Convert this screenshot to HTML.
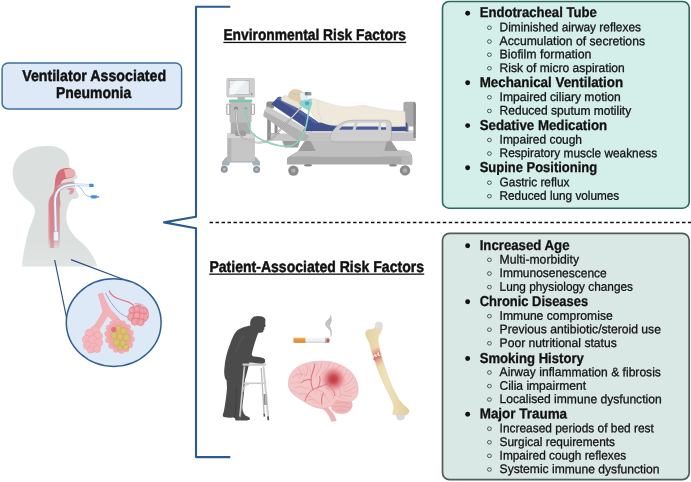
<!DOCTYPE html>
<html><head><meta charset="utf-8"><title>Ventilator Associated Pneumonia</title>
<style>
html,body{margin:0;padding:0;background:#fff;}
svg{display:block;}
text{font-family:"Liberation Sans",sans-serif;fill:#111;}
.h{font-weight:bold;font-size:14.3px;stroke:#111;stroke-width:0.3px;}
.s{font-size:12.4px;stroke:#111;stroke-width:0.28px;}
.t{font-weight:bold;font-size:15.7px;stroke:#111;stroke-width:0.45px;}
</style></head><body>
<svg width="691" height="482" viewBox="0 0 691 482" style="will-change:transform">
<rect width="691" height="482" fill="#fff"/>
<!-- bracket -->
<path d="M230.3 6.7 H196 V216.7 L164 222.4 L196 228.3 V457.1 H230.3" fill="none" stroke="#2a5b8f" stroke-width="2.1" stroke-linejoin="round"/>
<!-- dashed divider -->
<line x1="209.55" y1="222.4" x2="691" y2="222.4" stroke="#111" stroke-width="1.5" stroke-dasharray="3.5 2.48"/>
<!-- title box -->
<rect x="2.1" y="62.9" width="179.5" height="46" rx="6" ry="6" fill="#dde9f7" stroke="#3f6fa3" stroke-width="1.5"/>
<text class="t" x="22.2" y="81.3" transform="rotate(0.03 22.2 81.3)" textLength="143.9" lengthAdjust="spacingAndGlyphs">Ventilator Associated</text>
<text class="t" x="56" y="97.6" transform="rotate(0.03 56 97.6)" textLength="75.2" lengthAdjust="spacingAndGlyphs">Pneumonia</text>
<!-- section headings -->
<text class="t" x="223.4" y="40.3" transform="rotate(0.03 223.4 40.3)" textLength="182.6" lengthAdjust="spacingAndGlyphs">Environmental Risk Factors</text>
<rect x="223.4" y="41.8" width="182.8" height="1.3" fill="#111"/>
<text class="t" x="209.4" y="271.5" transform="rotate(0.03 209.4 271.5)" textLength="214.6" lengthAdjust="spacingAndGlyphs">Patient-Associated Risk Factors</text>
<rect x="209.2" y="273.5" width="215" height="1.3" fill="#111"/>
<!-- boxes -->
<rect x="442.5" y="1.5" width="246.7" height="206.7" rx="6.5" ry="6.5" fill="#d4eeea" stroke="#2a6a5e" stroke-width="1.6"/>
<rect x="442.5" y="233.4" width="246.7" height="246.2" rx="7" ry="7" fill="#dae8e5" stroke="#4f5d5a" stroke-width="1.7"/>
<circle cx="467.65" cy="13.20" r="2.45" fill="#111"/>
<text class="h" x="479.7" y="17.35" transform="rotate(0.03 479.7 17.35)" textLength="117.1" lengthAdjust="spacingAndGlyphs">Endotracheal Tube</text>
<circle cx="467.65" cy="82.80" r="2.45" fill="#111"/>
<text class="h" x="479.7" y="86.95" transform="rotate(0.03 479.7 86.95)" textLength="143.4" lengthAdjust="spacingAndGlyphs">Mechanical Ventilation</text>
<circle cx="467.65" cy="125.60" r="2.45" fill="#111"/>
<text class="h" x="479.7" y="129.75" transform="rotate(0.03 479.7 129.75)" textLength="127.39999999999999" lengthAdjust="spacingAndGlyphs">Sedative Medication</text>
<circle cx="467.65" cy="167.80" r="2.45" fill="#111"/>
<text class="h" x="479.7" y="171.95" transform="rotate(0.03 479.7 171.95)" textLength="117.39999999999999" lengthAdjust="spacingAndGlyphs">Supine Positioning</text>
<circle cx="467.65" cy="245.70" r="2.45" fill="#111"/>
<text class="h" x="479.7" y="249.85" transform="rotate(0.03 479.7 249.85)" textLength="89.8" lengthAdjust="spacingAndGlyphs">Increased Age</text>
<circle cx="467.65" cy="301.80" r="2.45" fill="#111"/>
<text class="h" x="479.7" y="305.95" transform="rotate(0.03 479.7 305.95)" textLength="108.39999999999999" lengthAdjust="spacingAndGlyphs">Chronic Diseases</text>
<circle cx="467.65" cy="358.50" r="2.45" fill="#111"/>
<text class="h" x="479.7" y="362.65" transform="rotate(0.03 479.7 362.65)" textLength="104.1" lengthAdjust="spacingAndGlyphs">Smoking History</text>
<circle cx="467.65" cy="414.20" r="2.45" fill="#111"/>
<text class="h" x="479.7" y="418.35" transform="rotate(0.03 479.7 418.35)" textLength="87.39999999999999" lengthAdjust="spacingAndGlyphs">Major Trauma</text>
<ellipse cx="489.4" cy="27.70" rx="1.95" ry="1.8" fill="none" stroke="#333" stroke-width="0.8"/>
<text class="s" x="499.6" y="31.3" transform="rotate(0.03 499.6 31.3)" textLength="141.4" lengthAdjust="spacingAndGlyphs">Diminished airway reflexes</text>
<ellipse cx="489.4" cy="41.50" rx="1.95" ry="1.8" fill="none" stroke="#333" stroke-width="0.8"/>
<text class="s" x="499.6" y="45.1" transform="rotate(0.03 499.6 45.1)" textLength="145.4" lengthAdjust="spacingAndGlyphs">Accumulation of secretions</text>
<ellipse cx="489.4" cy="54.70" rx="1.95" ry="1.8" fill="none" stroke="#333" stroke-width="0.8"/>
<text class="s" x="499.6" y="58.3" transform="rotate(0.03 499.6 58.3)" textLength="91.8" lengthAdjust="spacingAndGlyphs">Biofilm formation</text>
<ellipse cx="489.4" cy="68.30" rx="1.95" ry="1.8" fill="none" stroke="#333" stroke-width="0.8"/>
<text class="s" x="499.6" y="71.9" transform="rotate(0.03 499.6 71.9)" textLength="125.1" lengthAdjust="spacingAndGlyphs">Risk of micro aspiration</text>
<ellipse cx="489.4" cy="97.30" rx="1.95" ry="1.8" fill="none" stroke="#333" stroke-width="0.8"/>
<text class="s" x="499.6" y="100.9" transform="rotate(0.03 499.6 100.9)" textLength="121.1" lengthAdjust="spacingAndGlyphs">Impaired ciliary motion</text>
<ellipse cx="489.4" cy="111.00" rx="1.95" ry="1.8" fill="none" stroke="#333" stroke-width="0.8"/>
<text class="s" x="499.6" y="114.6" transform="rotate(0.03 499.6 114.6)" textLength="131.6" lengthAdjust="spacingAndGlyphs">Reduced sputum motility</text>
<ellipse cx="489.4" cy="140.00" rx="1.95" ry="1.8" fill="none" stroke="#333" stroke-width="0.8"/>
<text class="s" x="499.6" y="143.6" transform="rotate(0.03 499.6 143.6)" textLength="82.39999999999999" lengthAdjust="spacingAndGlyphs">Impaired cough</text>
<ellipse cx="489.4" cy="153.50" rx="1.95" ry="1.8" fill="none" stroke="#333" stroke-width="0.8"/>
<text class="s" x="499.6" y="157.1" transform="rotate(0.03 499.6 157.1)" textLength="157.6" lengthAdjust="spacingAndGlyphs">Respiratory muscle weakness</text>
<ellipse cx="489.4" cy="182.70" rx="1.95" ry="1.8" fill="none" stroke="#333" stroke-width="0.8"/>
<text class="s" x="499.6" y="186.3" transform="rotate(0.03 499.6 186.3)" textLength="69.8" lengthAdjust="spacingAndGlyphs">Gastric reflux</text>
<ellipse cx="489.4" cy="196.20" rx="1.95" ry="1.8" fill="none" stroke="#333" stroke-width="0.8"/>
<text class="s" x="499.6" y="199.8" transform="rotate(0.03 499.6 199.8)" textLength="119.6" lengthAdjust="spacingAndGlyphs">Reduced lung volumes</text>
<ellipse cx="489.4" cy="259.80" rx="1.95" ry="1.8" fill="none" stroke="#333" stroke-width="0.8"/>
<text class="s" x="499.6" y="263.4" transform="rotate(0.03 499.6 263.4)" textLength="79.39999999999999" lengthAdjust="spacingAndGlyphs">Multi-morbidity</text>
<ellipse cx="489.4" cy="273.50" rx="1.95" ry="1.8" fill="none" stroke="#333" stroke-width="0.8"/>
<text class="s" x="499.6" y="277.1" transform="rotate(0.03 499.6 277.1)" textLength="107.1" lengthAdjust="spacingAndGlyphs">Immunosenescence</text>
<ellipse cx="489.4" cy="287.10" rx="1.95" ry="1.8" fill="none" stroke="#333" stroke-width="0.8"/>
<text class="s" x="499.6" y="290.7" transform="rotate(0.03 499.6 290.7)" textLength="133.4" lengthAdjust="spacingAndGlyphs">Lung physiology changes</text>
<ellipse cx="489.4" cy="316.20" rx="1.95" ry="1.8" fill="none" stroke="#333" stroke-width="0.8"/>
<text class="s" x="499.6" y="319.8" transform="rotate(0.03 499.6 319.8)" textLength="113.1" lengthAdjust="spacingAndGlyphs">Immune compromise</text>
<ellipse cx="489.4" cy="329.70" rx="1.95" ry="1.8" fill="none" stroke="#333" stroke-width="0.8"/>
<text class="s" x="499.6" y="333.3" transform="rotate(0.03 499.6 333.3)" textLength="161.29999999999998" lengthAdjust="spacingAndGlyphs">Previous antibiotic/steroid use</text>
<ellipse cx="489.4" cy="343.30" rx="1.95" ry="1.8" fill="none" stroke="#333" stroke-width="0.8"/>
<text class="s" x="499.6" y="346.9" transform="rotate(0.03 499.6 346.9)" textLength="117.1" lengthAdjust="spacingAndGlyphs">Poor nutritional status</text>
<ellipse cx="489.4" cy="372.50" rx="1.95" ry="1.8" fill="none" stroke="#333" stroke-width="0.8"/>
<text class="s" x="499.6" y="376.1" transform="rotate(0.03 499.6 376.1)" textLength="161.29999999999998" lengthAdjust="spacingAndGlyphs">Airway inflammation &amp; fibrosis</text>
<ellipse cx="489.4" cy="386.10" rx="1.95" ry="1.8" fill="none" stroke="#333" stroke-width="0.8"/>
<text class="s" x="499.6" y="389.7" transform="rotate(0.03 499.6 389.7)" textLength="86.39999999999999" lengthAdjust="spacingAndGlyphs">Cilia impairment</text>
<ellipse cx="489.4" cy="399.50" rx="1.95" ry="1.8" fill="none" stroke="#333" stroke-width="0.8"/>
<text class="s" x="499.6" y="403.1" transform="rotate(0.03 499.6 403.1)" textLength="162.1" lengthAdjust="spacingAndGlyphs">Localised immune dysfunction</text>
<ellipse cx="489.4" cy="428.70" rx="1.95" ry="1.8" fill="none" stroke="#333" stroke-width="0.8"/>
<text class="s" x="499.6" y="432.3" transform="rotate(0.03 499.6 432.3)" textLength="154.29999999999998" lengthAdjust="spacingAndGlyphs">Increased periods of bed rest</text>
<ellipse cx="489.4" cy="442.30" rx="1.95" ry="1.8" fill="none" stroke="#333" stroke-width="0.8"/>
<text class="s" x="499.6" y="445.9" transform="rotate(0.03 499.6 445.9)" textLength="115.39999999999999" lengthAdjust="spacingAndGlyphs">Surgical requirements</text>
<ellipse cx="489.4" cy="455.80" rx="1.95" ry="1.8" fill="none" stroke="#333" stroke-width="0.8"/>
<text class="s" x="499.6" y="459.4" transform="rotate(0.03 499.6 459.4)" textLength="126.6" lengthAdjust="spacingAndGlyphs">Impaired cough reflexes</text>
<ellipse cx="489.4" cy="469.50" rx="1.95" ry="1.8" fill="none" stroke="#333" stroke-width="0.8"/>
<text class="s" x="499.6" y="473.1" transform="rotate(0.03 499.6 473.1)" textLength="159.9" lengthAdjust="spacingAndGlyphs">Systemic immune dysfunction</text>
<defs><filter id="soft" x="-2%" y="-2%" width="104%" height="104%"><feGaussianBlur stdDeviation="0.35"/></filter></defs>
<g filter="url(#soft)">
<!-- ===== head silhouette ===== -->
<defs>
<linearGradient id="throatFade" x1="0" y1="180" x2="0" y2="250" gradientUnits="userSpaceOnUse">
<stop offset="0" stop-color="#d5707a"/><stop offset="0.3" stop-color="#dc8a91"/><stop offset="0.8" stop-color="#e09aa0"/><stop offset="1" stop-color="#e0a0a5" stop-opacity="0"/>
</linearGradient>
<linearGradient id="torsoFade" x1="0" y1="240" x2="0" y2="268" gradientUnits="userSpaceOnUse">
<stop offset="0" stop-color="#dbe0df"/><stop offset="1" stop-color="#e0e4e3"/>
</linearGradient>
</defs>
<g id="head">
<path d="M46 146 C62 145 71 154 69 165 L70.5 168 C73 171 76 174 77.5 176.5 C78 178 76.5 179 74.5 179.5 L74.8 183 C76 184 76 185.5 74.8 186.5 C76 187.5 76.5 189 75.8 190.5 C77.5 192 79 194 78.8 196 C78.3 198.5 75.5 199 72.5 199 C70.5 200.5 68.8 204 67.8 207.5 C66.2 212 66 217 66.8 222 C69 231 75 237 81.5 242.5 C88 248 94 256 97.4 266.5 L22 266.5 C22.6 256 25 244 28.5 231 C31.5 222 35.4 216 35 210 C34 203 27 201 21 194 C12 184 10 170 16 160 C22 150 34 146 46 146 Z" fill="url(#torsoFade)"/>
<!-- pharynx -->
<path d="M58 172 C60 168.5 66 167.5 70 168.2 C73 168.8 75.5 171 75.3 173.5 C75 176 73 177.5 70.5 178 C67 178.5 63.5 179 61.5 181.5 C60 184 60.5 188 60 192 C59.6 196 59.8 200 59.8 204 L59.6 248 L48.5 248 L48.4 206 C48.3 200 50 197 52.5 194 C55 190 54.5 186 55 182 C55.3 178 56.3 174.5 58 172 Z" fill="url(#throatFade)"/>
<path d="M64 170 C67 168.4 71 168.2 73.6 169.4 C75.6 170.6 76 173.4 74.6 175.6 C72.6 177.6 69 177.8 66 178 Z" fill="#f0c4c6" opacity="0.75"/>
<path d="M50.2 205 C50.2 200 52 197 54 194 L54 248 L50.2 248 Z" fill="#d47680" opacity="0.5"/>
<!-- tongue hook -->
<path d="M66.5 188.5 C69 187.5 72.5 187.5 74 189 C74.8 191 73.5 193.5 71 194.3 C69.3 194.7 68.3 193.8 69.3 192.7 C70.8 191.8 70.8 190.2 69 189.8 C68 189.6 67 189.3 66.5 188.5 Z" fill="#e09aa0"/>
<!-- epiglottis -->
<path d="M58.2 196.5 C60.2 198 61 202 60.2 206.5 L58.6 206.3 C59 202.5 58.8 199.5 57.6 197.5 Z" fill="#dc8a91"/>
<!-- pilot line -->
<path d="M76 185.6 C79.5 185.8 81 188 82.5 190.5 C84 193 86 196.5 91 196.8" fill="none" stroke="#7fb0e6" stroke-width="0.9"/>
<rect x="90.6" y="195.3" width="6.6" height="3.1" rx="1.4" fill="#4a90de"/>
<rect x="96.8" y="196.1" width="2.4" height="1.5" fill="#5a9be2"/>
<!-- ET tube -->
<path d="M57 187.4 C60.6 183.8 67 182.6 73.8 182.4" fill="none" stroke="#e2959c" stroke-width="2"/>
<path d="M90 185.3 L74 184.6" fill="none" stroke="#b9cfee" stroke-width="2.5"/>
<path d="M90 185.3 L74 184.6" fill="none" stroke="#e6effa" stroke-width="1.5"/>
<path d="M75 184.6 L74 184.6 C66 184.6 59.5 187.5 56.6 193 C55 196.5 54.9 199 55 203 L55.9 232" fill="none" stroke="#9fb1c6" stroke-width="3.1" stroke-linecap="butt"/>
<path d="M75 184.6 L74 184.6 C66 184.6 59.5 187.5 56.6 193 C55 196.5 54.9 199 55 203 L55.9 232" fill="none" stroke="#eef3f9" stroke-width="1.9" stroke-linecap="butt"/>
<rect x="53.5" y="231.5" width="5.2" height="9.6" rx="1.5" fill="#eef2f6" stroke="#a9b6c6" stroke-width="0.7"/>
<rect x="89.2" y="183.8" width="4.4" height="3.2" rx="0.6" fill="#3f8be0"/>
</g>
<!-- ===== zoom lines + alveoli circle ===== -->
<g id="alveoli">
<path d="M54.7 260 L66.6 318" stroke="#2a4f80" stroke-width="1.2" fill="none"/>
<path d="M71 259.6 L125 280" stroke="#2a4f80" stroke-width="1.2" fill="none"/>
<ellipse cx="113.7" cy="322.6" rx="47.4" ry="43.8" fill="#dde9f6" stroke="#2f5f93" stroke-width="1.5"/>
<!-- vessels -->
<path d="M109 290.5 C111 296 116 298.5 122 300 C127 301.2 131 302.5 134 306" fill="none" stroke="#e0707a" stroke-width="1.1"/>
<path d="M134 304 C139 303 144 305 147 309 C149 312 149 316 147.5 319" fill="none" stroke="#e0707a" stroke-width="0.6"/>
<path d="M105.5 293 C109 300 113 306 118 311 C122 315 125 316 128 317.5" fill="none" stroke="#a9a0d8" stroke-width="1"/>
<!-- bronchiole -->
<path d="M98.3 294.2 L102.6 293 C104.5 299 107.5 305 110.5 309.5 C114 313.5 118 317 121 321 L116 324.5 C113.5 321 110.5 318 107.8 315.8 C105.5 319.5 102.5 324 99.5 329 L93.5 327 C97 322 101 316 103 311.5 C101.5 306 99.8 300 98.3 294.2 Z" fill="#f3b3b6" stroke="#ec9aa0" stroke-width="0.5"/>
<!-- left cluster -->
<g fill="#f4b6ba" stroke="#ea979d" stroke-width="0.45">
<circle cx="95" cy="330.5" r="4.6"/><circle cx="89.5" cy="333.5" r="4.4"/><circle cx="98" cy="336" r="4.4"/><circle cx="86.5" cy="339.5" r="4.2"/><circle cx="92.5" cy="340" r="4.6"/><circle cx="98.5" cy="342.5" r="4.2"/><circle cx="87.5" cy="345.5" r="4.2"/><circle cx="93.5" cy="347.5" r="4.6"/><circle cx="97" cy="349" r="3.6"/><circle cx="90.5" cy="350" r="3.2"/>
</g>
<!-- middle cluster -->
<g fill="#f3b1b5" stroke="#e8939a" stroke-width="0.4"><circle cx="130.5" cy="332.9" r="2.9"/><circle cx="131.4" cy="339.2" r="2.9"/><circle cx="129.9" cy="345.0" r="2.9"/><circle cx="126.3" cy="349.1" r="2.9"/><circle cx="121.4" cy="350.6" r="2.9"/><circle cx="116.1" cy="349.4" r="2.9"/><circle cx="111.5" cy="345.7" r="2.9"/><circle cx="108.5" cy="340.1" r="2.9"/><circle cx="107.6" cy="333.8" r="2.9"/><circle cx="109.1" cy="328.0" r="2.9"/><circle cx="112.7" cy="323.9" r="2.9"/><circle cx="117.6" cy="322.4" r="2.9"/><circle cx="122.9" cy="323.6" r="2.9"/><circle cx="127.5" cy="327.3" r="2.9"/></g>

<g fill="#f0a6ab" stroke="#e68890" stroke-width="0.5">
<ellipse cx="119.5" cy="336.5" rx="11.8" ry="14.6" transform="rotate(-18 119.5 336.5)" stroke="none"/>
</g>
<g fill="#d9c46a" stroke="#bfa64a" stroke-width="0.5">
<circle cx="118" cy="328.5" r="3"/><circle cx="123.5" cy="331" r="3.3"/><circle cx="114" cy="335.5" r="3.2"/><circle cx="120" cy="336.5" r="3"/><circle cx="126.5" cy="337.5" r="3.3"/><circle cx="116.5" cy="342.5" r="3.2"/><circle cx="123" cy="343.5" r="3.2"/><circle cx="126" cy="347" r="2.8"/><circle cx="120" cy="348" r="2.4"/>
</g>
<circle cx="113.8" cy="329.5" r="2.6" fill="#e8707c"/>
<!-- right cluster -->
<g fill="#efa3ab" stroke="#e07883" stroke-width="0.5">
<circle cx="133" cy="311" r="4.2"/><circle cx="138.5" cy="309" r="4.2"/><circle cx="143.5" cy="311.5" r="4"/><circle cx="131.5" cy="317" r="4"/><circle cx="137.5" cy="316" r="4.4"/><circle cx="143.5" cy="317.5" r="4.2"/><circle cx="135" cy="321.5" r="3.8"/><circle cx="140.5" cy="322" r="3.8"/>
</g>
<g fill="none" stroke="#d9545f" stroke-width="0.35" opacity="0.8">
<path d="M130 308 C134 306 139 305.4 144 307.4 C147.6 309.4 148.6 314 147.4 319"/><path d="M133 306 C135 311 134 317 132 321"/><path d="M138 305 C140 310 140 317 138 324"/><path d="M143 306.6 C144.6 311 144.6 318 142.6 323.6"/><path d="M129 313 C134 312 141 312.4 147.6 314"/><path d="M129.6 319 C135 318 141 318.6 146.6 320.4"/>
</g>
</g>
<!-- ===== ventilator ===== -->
<g id="vent">
<!-- base legs -->
<path d="M222 162 L226 157 L256 157 L260 162 L260 165.5 L253 165.5 L252 162.5 L230 162.5 L229 165.5 L222 165.5 Z" fill="#a3b1b8"/>
<circle cx="224.3" cy="169.3" r="3.5" fill="#8f9498"/><circle cx="224.3" cy="169.3" r="1.5" fill="#b9bdc0"/>
<circle cx="256.6" cy="169.6" r="3.5" fill="#8f9498"/><circle cx="256.6" cy="169.6" r="1.5" fill="#b9bdc0"/>
<!-- lower body -->
<rect x="227.4" y="133.6" width="27.6" height="27.6" rx="1" fill="#c6c6c6"/>
<rect x="227.4" y="133.6" width="4" height="27.6" fill="#b5b5b5"/>
<rect x="227.4" y="133.6" width="27.6" height="4.4" fill="#d6d6d6"/>
<!-- mid body -->
<rect x="230.8" y="122" width="19.8" height="12" fill="#adadad"/>
<rect x="235" y="130.5" width="11" height="5.5" rx="1.5" fill="#9d9d9d"/>
<!-- upper body -->
<rect x="229.6" y="101.5" width="22" height="21" rx="1" fill="#bdbdbd"/>
<rect x="226.8" y="104" width="3" height="10.5" rx="1.2" fill="none" stroke="#a9a9a9" stroke-width="1.2"/>
<rect x="251.4" y="104" width="3" height="10.5" rx="1.2" fill="none" stroke="#a9a9a9" stroke-width="1.2"/>
<rect x="229" y="99.6" width="23.2" height="2.6" rx="0.8" fill="#7cc5b2"/>
<rect x="237.6" y="96.5" width="7.2" height="3.4" fill="#b3b3b3"/>
<!-- monitor -->
<rect x="226.8" y="78.3" width="27.6" height="18.8" rx="1.2" fill="#cfcfcf" stroke="#b9b9b9" stroke-width="0.6"/>
<rect x="229.2" y="80.7" width="20" height="14" fill="#e9edf0" stroke="#a6a9ac" stroke-width="0.6"/>
<path d="M236 80.7 L246 80.7 L234 94.7 L229.2 94.7 L229.2 89 Z" fill="#f8fafb" opacity="0.8"/>
<circle cx="251.6" cy="94" r="0.9" fill="#8d8d8d"/>
<!-- ports -->
<circle cx="236" cy="108.6" r="2" fill="#8b8b8b"/>
<circle cx="245.8" cy="108.6" r="1.5" fill="#6fb8a4"/>
</g>
<!-- ===== bed ===== -->
<g id="bed">
<!-- headboard + legs -->
<path d="M266.4 103.5 Q266.4 101.6 268.4 101.6 L274 101.6 L274 108 L270.8 109 L270.8 141 L267.2 141 L267.2 110 L266.4 110 Z" fill="#8e8e8e"/>
<rect x="274.6" y="120" width="3" height="14" fill="#8e8e8e"/>
<path d="M267.2 133 L280 133 L280 136 L267.2 136 Z" fill="#9a9a9a"/>
<!-- base dark bar -->
<path d="M287 164.6 L287 159 Q287 157.6 288.4 157 L299 150.6 L404 150.6 Q412 151 412.2 158 L412.2 164.6 Z" fill="#a9a9a9"/>
<path d="M299 150.6 L404 150.6 Q410 150.8 411.6 156.6 L290 156.6 Z" fill="#bfbfbf"/>
<path d="M401.6 156.6 L412.2 156.6 L412.2 164.6 L401.6 164.6 Z" fill="#b9b9b9"/>
<!-- struts -->
<path d="M305 140.6 L391 140.6 L398 151 L298 151 Z" fill="#9c9c9c"/>
<!-- under-frame trapezoid -->
<path d="M310 140 L387 140 L383.6 153.6 Q383 156.8 379.6 156.8 L321 156.8 Q318 156.8 317 153.6 Z" fill="#bfbfbf"/>
<!-- wheels -->
<circle cx="293.4" cy="170.6" r="5.2" fill="#8a8a8a"/><circle cx="293.4" cy="170.6" r="2.2" fill="#b0b0b0"/>
<circle cx="405" cy="170.4" r="5.2" fill="#8a8a8a"/><circle cx="405" cy="170.4" r="2.2" fill="#b0b0b0"/>
<ellipse cx="308" cy="165.2" rx="4" ry="1.3" fill="#8a8a8a"/><ellipse cx="393" cy="165.2" rx="4" ry="1.3" fill="#8a8a8a"/>
<!-- flat frame left extension under backrest -->
<path d="M271 133.4 L306 133.4 L306 140.8 L271 140.8 Z" fill="#c6c6c6"/>
<path d="M282 140.8 L300 140.8 L298 147.6 L285 147.6 Z" fill="#9a9a9a"/>
<!-- flat frame -->
<path d="M306 130.4 L415.6 130.4 L415.6 141 L300 141 Z" fill="#c3c3c3"/>
<path d="M306 130.4 L415.6 130.4 L415.6 133 L304.5 133 Z" fill="#d2d2d2"/>
<!-- inclined backrest frame -->
<path d="M264.2 111 L268 106.5 L311 131.5 L307 140.4 L297 140.4 L263.2 116 Z" fill="#b2b2b2"/>
<path d="M264.2 111 L268 106.5 L311 131.5 L309 135.4 Z" fill="#cbcbcb"/>
<!-- footboard -->
<rect x="403.4" y="101.8" width="12.4" height="24.8" rx="2.2" fill="#a9a9a9"/>
<path d="M413.4 102 Q415.8 102.4 415.8 104.4 L415.8 138 L413.4 138 Z" fill="#8a8a8a"/>
<rect x="405.6" y="126" width="3" height="6" fill="#9b9b9b"/>
<!-- mattress flat -->
<path d="M309 122.5 L406 122.5 Q407.5 122.5 407.5 124 L407.5 131 L303 131 Z" fill="#3f4f8d"/>
<!-- mattress inclined -->
<path d="M271.4 104.2 L277.6 97.6 Q279 96.4 281 97 L318 122 L311.5 131.4 Z" fill="#3f4f8d"/>
<path d="M277.6 97.6 Q279 96.4 281 97 L318 122 L316.5 124 L277 99.2 Z" fill="#5666a6"/>
<!-- pillow -->
<path d="M281 98.5 Q283 94.8 286.5 95.6 L300 103.4 Q301.5 105 300 107.4 L296.6 107.4 L281.6 100.4 Z" fill="#ebe3d3" stroke="#d6ccb9" stroke-width="0.4"/>
<!-- blanket/body -->
<path d="M308.6 100.8 C309.6 99 311 98.2 313 98.6 C319 100 325 102.4 331 104.2 C338 106.2 346 107.4 352 106.8 C357 106.2 360 105 364 105.6 C370 106.4 374 107.6 380 108.8 C388 110.4 398 110.8 405 111.4 L405.6 126.4 C395 126.8 380 126.6 368 126.4 C354 126.2 343 126.4 334 125.6 C326 124.8 320 122 315 118.4 C312.6 115.8 310.4 110 309.2 106 Z" fill="#efe9dc" stroke="#d9cfbd" stroke-width="0.4"/>
<path d="M318 100.5 C317 107 318.5 114 322 120.5" fill="none" stroke="#d9cfbd" stroke-width="0.5"/>
<!-- head -->
<path d="M288.4 96.6 C288 92.6 291 89.4 295.4 89.2 C299 89 302 90.6 303.4 93.4 L305 96.8 L303.8 98.4 L304.6 100.6 C304.4 102.4 302.6 103 300.4 102.6 C297.4 102.2 294 100.6 291.4 99.2 C289.8 98.4 288.6 97.6 288.4 96.6 Z" fill="#e6caa9"/>
<path d="M288.4 96.6 C288 92.6 291 89.4 295.4 89.2 C293 91.4 292.6 95.6 294.4 99.2 L291.4 99.2 C289.8 98.4 288.6 97.6 288.4 96.6 Z" fill="#dccdb6"/>
<!-- gown + mask -->
<path d="M298.4 102.6 L303 100.4 L311.4 98.4 L312.2 104 L309.4 111 L304.6 108.4 L300.6 105.8 Z" fill="#8fd4c9"/>
<path d="M304.6 102 L309 101.4 L309.4 104.6 L306 105.4 Z" fill="#4aa6cc"/>
<path d="M299.4 93.2 C301.6 91.8 304.4 92 305.6 93.4 L307 97 C306.6 99.6 304 101.2 301.6 100.6 C300 99.6 299.2 96.4 299.4 93.2 Z" fill="#e4f1f0" stroke="#8ecfc6" stroke-width="0.5"/>
<path d="M292 93.6 L299.6 95.2" stroke="#8ecfc6" stroke-width="0.5" fill="none"/>
<rect x="304.8" y="92" width="6.6" height="3.6" rx="0.9" fill="#8e9aa3"/>
<rect x="305.4" y="92.4" width="2" height="2" fill="#5d6b75"/>
<!-- tubes -->
<path d="M301.6 107 L270.8 139.8" fill="none" stroke="#8f8f8f" stroke-width="1.7"/>
<path d="M301.6 107 L270.8 139.8" fill="none" stroke="#e9e9e9" stroke-width="0.8"/>
<path d="M236 109 C236.4 118 237 126 238.4 132 C240 138 246 140.6 253 142 C260 143.4 266 142.6 270.8 139.8" fill="none" stroke="#9a9a9a" stroke-width="1.7"/>
<path d="M236 109 C236.4 118 237 126 238.4 132 C240 138 246 140.6 253 142 C260 143.4 266 142.6 270.8 139.8" fill="none" stroke="#e9e9e9" stroke-width="0.8"/>
<path d="M245.8 109 C246.4 116 247.4 124 250 130 C253 136 260 139.6 268 142.6 C276 145.6 286 147.2 292 145.4 C298 143.6 302.6 137 305 130 C307.4 122 308.6 112 310 104" fill="none" stroke="#74c3ae" stroke-width="1.6"/>
<path d="M245.8 109 C246.4 116 247.4 124 250 130 C253 136 260 139.6 268 142.6 C276 145.6 286 147.2 292 145.4 C298 143.6 302.6 137 305 130 C307.4 122 308.6 112 310 104" fill="none" stroke="#b4e6d8" stroke-width="0.6"/>
<!-- side rail -->
<path d="M336 141.8 C331 141.8 328.8 139 330.6 135 C333 129.6 337.6 124.4 344 122 C348 120.4 352 120.2 356 120.2 L386 120.2 Q391.4 120.2 391.4 125.6 L391.4 136.4 Q391.4 141.8 386 141.8 Z" fill="#cfcfcf" stroke="#9a9a9a" stroke-width="0.5"/>
<path d="M339 129.8 C341 126 344.6 123.2 349 122.8 L354.6 122.8 L352.6 129.8 Z" fill="#f1eee7"/>
<path d="M339 129.8 C339.8 128.4 340.8 127.2 342 126.4 L353.6 126.4 L352.6 129.8 Z" fill="#4a5a98"/>
<path d="M357.6 122.8 L379 122.8 L378 129.8 L355.6 129.8 Z" fill="#f1eee7"/>
<path d="M356.6 126.4 L378.5 126.4 L378 129.8 L355.6 129.8 Z" fill="#4a5a98"/>
<rect x="381" y="122.8" width="5" height="7" rx="1.4" fill="#efede8"/>
<rect x="381" y="127.2" width="5" height="2.6" fill="#4a5a98"/>
</g>
<!-- ===== old man with walker ===== -->
<g id="oldman">
<!-- far walker legs -->
<path d="M246.5 368 L235.2 417.5" stroke="#b9b9b9" stroke-width="1.3" fill="none"/>
<path d="M261.2 368 L264.2 414.5" stroke="#b9b9b9" stroke-width="1.3" fill="none"/>
<!-- body -->
<path d="M254.6 316.4 C257.6 315.4 263 315.8 265 318.4 C266 320 265 321.4 265.2 323 L265.6 326.6 L264.2 327.6 L264.4 329.4 L263.4 330 L263.4 331.6 C262.6 332.8 260.6 332.8 258.8 332.4 L257.8 334 C256.8 337 255.4 340.4 254.4 344 C253.4 348 252 351.6 251.8 354.4 C252 355.8 253 356.4 254.6 356.6 C257.6 356.8 261 357.4 263.6 358.6 C265.4 359 265.6 361.6 264.2 362.8 C262.4 363.6 259 363 256 363 L249.4 362.4 C248.4 367 246.6 374 245 380 C244.6 388 243.4 398 242.4 406 C242.2 410 243.2 413.6 245.4 415.6 C247.6 416.6 250 417.4 250 419 C250 420.4 247 420.6 243 420.6 L235.6 420.4 L234.8 418 L233.4 417.6 C230.6 417.8 226.6 417.6 223.6 417 C222.4 416 222.6 414.2 223.6 412.6 C225 406 226.4 396 227 388 L226.6 380.4 C224.6 378.6 223.8 374 224.4 368 C225 360 227 352 229.6 345.6 C231.6 340 233.6 334 237 330.6 C240.6 327.6 246 326.4 250.4 325.4 C249.8 322.6 250.2 318 255 316.2 Z" fill="#4b4b4b"/>
<path d="M236 352 C238 346 240 340 244 336" stroke="#5e5e5e" stroke-width="0.8" fill="none"/>
<path d="M236.6 388 C236.2 398 235.6 408 234.8 418" stroke="#3c3c3c" stroke-width="0.8" fill="none"/>
<!-- walker near side -->
<path d="M244.4 366.4 L239.8 417.5" stroke="#d2d2d2" stroke-width="1.6" fill="none"/>
<path d="M263.2 366.4 L268 417.5" stroke="#d2d2d2" stroke-width="1.6" fill="none"/>
<path d="M244.4 366.4 L239.8 417.5 M263.2 366.4 L268 417.5" stroke="#a4a4a4" stroke-width="0.4" fill="none" transform="translate(0.8 0)"/>
<path d="M243.4 364.6 L265.2 364.6" stroke="#c9c9c9" stroke-width="2.2" stroke-linecap="round" fill="none"/>
<path d="M243.4 383.3 L264.6 383.3" stroke="#c9c9c9" stroke-width="1.6" fill="none"/>
<path d="M242.8 392 C243 387 245 384.6 249 384.2" stroke="#c9c9c9" stroke-width="1.2" fill="none"/>
<path d="M268 416.5 L268.3 420.3" stroke="#555" stroke-width="1.8" fill="none"/>
<path d="M239.8 416.5 L239.5 420" stroke="#555" stroke-width="1.8" fill="none"/>
<path d="M264.2 413.8 L264.4 416.6" stroke="#555" stroke-width="1.5" fill="none"/>
<path d="M264.4 394 L265 405" stroke="#8c8c8c" stroke-width="1.6" fill="none"/>
<path d="M266 394 L266.8 405" stroke="#8c8c8c" stroke-width="0.6" fill="none"/>
<!-- hand over handle -->
<path d="M254 358 C257.6 357.2 261.6 357.4 264 358.8 C265.6 360 265.4 362.4 264 363.2 C261 363.8 257 363.4 254 363 Z" fill="#4b4b4b"/>
</g>
<!-- ===== cigarette ===== -->
<g id="cig">
<defs><linearGradient id="cigShade" x1="0" y1="0" x2="0" y2="1"><stop offset="0" stop-color="#fff" stop-opacity="0.35"/><stop offset="0.45" stop-color="#fff" stop-opacity="0"/><stop offset="1" stop-color="#000" stop-opacity="0.18"/></linearGradient></defs>
<rect x="293.4" y="337.8" width="12.4" height="4.9" rx="1" fill="#e9952c"/>
<rect x="305.6" y="337.8" width="21" height="4.9" fill="#f1f1f1"/>
<path d="M325.4 337.8 L329 338 Q330.6 340.2 329 342.5 L325.4 342.7 Z" fill="#a59a94"/>
<path d="M327 338.2 L329 338.4 Q330 340.2 329 342.1 L327 342.3 Z" fill="#e0522c"/>
<rect x="293.4" y="337.8" width="36.4" height="4.9" rx="1" fill="url(#cigShade)"/>
<path d="M330.4 336.4 C330.8 333.4 330.6 331 328.6 329 C326 326.6 324.6 324.6 325.6 322.4 C326.6 320 329.6 319.4 330.6 315 C332.4 318 332 321 330.6 323.4 C329.4 325.6 330.4 327.4 331.4 330 C332.2 332.4 331.8 334.6 331.2 336.4 Z" fill="#b4b4b4" opacity="0.85"/>
<path d="M328.4 321 C327 323 327.6 325.4 329.4 327.6" fill="none" stroke="#d4d4d4" stroke-width="0.9" opacity="0.9"/>
</g>
<!-- ===== brain ===== -->
<g id="brain">
<defs>
<radialGradient id="hot" cx="333.4" cy="379.2" r="13" gradientUnits="userSpaceOnUse">
<stop offset="0" stop-color="#bf3842"/><stop offset="0.3" stop-color="#cb4a54" stop-opacity="0.97"/><stop offset="0.62" stop-color="#dc737b" stop-opacity="0.7"/><stop offset="1" stop-color="#e8959a" stop-opacity="0"/>
</radialGradient>
</defs>
<!-- brain stem -->
<path d="M322 404 C326 406 330 409 332.6 413 C334.4 416 335.6 419 336.2 420.6 L331.6 421.4 C330.4 418 328.6 414.6 326 411.6 C324 409.4 321 407.6 319 406.6 Z" fill="#eeb4b6" stroke="#e08a90" stroke-width="0.4"/>
<!-- cerebellum -->
<path d="M334 400 C340 397.4 348 398 351.6 402 C353.4 406 351 411 345.6 413 C340.6 414.6 334.6 413 332 409.6 C330.6 406.6 331.6 402 334 400 Z" fill="#efb6b8" stroke="#e0949a" stroke-width="0.4"/>
<!-- cerebrum -->
<path d="M288.3 383 C288.6 376 292.6 369.6 299 366 C306 362.4 315 360.8 324 361.2 C335 361.6 345 365.4 351.6 372.6 C356 377.6 358.4 384 358.2 390.6 C358 395.6 355.6 399.4 351.6 401.2 C347 402.4 341 402 336.6 400 C334.6 404 330 407.6 324.6 408.4 C318 409 311 406 305 402.2 C300 399 295 396.4 291.6 392.6 C289.4 390 288.2 386.6 288.3 383 Z" fill="#f3c6c7" stroke="#e7a4a8" stroke-width="0.5"/>
<!-- gyri lines -->
<g fill="none" stroke="#e38c93" stroke-width="0.45">
<path d="M292 378 C296 374 301 373 305 375"/><path d="M295 388 C299 386 303 386.6 306 389"/><path d="M298 368.6 C301 371 302 374 301 377"/><path d="M306 364.4 C308 368 308 372 306 376"/><path d="M314 362 C315 367 313.6 372 311 376"/><path d="M322 361.6 C321 367 319 372 316 376"/><path d="M330 362.4 C328 368 325 372 321 375"/><path d="M340 365 C338 369 335 371 331 372"/><path d="M347 370 C346 374 344 377 341 379"/><path d="M353 377 C351 381 348 384 344 385.6"/><path d="M356 386 C353 389 349 391 345 391.6"/><path d="M352 396 C348 396.6 344 396 341 394"/><path d="M300 394 C304 393 308 394 311 397"/><path d="M308 400 C312 399 316 400 319 403"/><path d="M316 390 C320 390 324 392 326 396"/><path d="M326 388 C330 390 333 394 334 399"/><path d="M337 386 C340 389 341 393 340 397"/>
<path d="M336 403 C340 401.6 345 402 349 404"/><path d="M334 407 C339 405.6 345 406 350 408"/><path d="M336 410.6 C340 409.6 344 410 347 411"/>
</g>
<g fill="none" stroke="#e9a0a5" stroke-width="0.35">
<path d="M290 384 C294 382 298 382 302 384"/><path d="M291 390 C295 391 299 393 302 396"/><path d="M296 372 C299 376 300 380 299 384"/><path d="M303 368 C305 372 305 378 303 383"/><path d="M309 365 C311 370 311 376 309 382"/><path d="M317 363 C318 368 317 374 315 379"/><path d="M326 362 C325 367 323 372 320 376"/><path d="M334 364 C333 368 331 371 328 373"/><path d="M343 367 C342 371 340 374 337 376"/><path d="M350 373 C349 377 347 380 344 382"/><path d="M355 381 C353 385 350 387 346 388"/><path d="M357 391 C354 393 350 394 346 394"/><path d="M348 399 C344 399 340 398 337 396"/><path d="M304 397 C308 396 312 397 315 400"/><path d="M312 403 C316 402 320 403 323 406"/><path d="M306 388 C310 388 314 390 316 394"/><path d="M320 394 C324 395 328 398 329 402"/><path d="M330 384 C334 387 336 391 336 396"/><path d="M341 382 C344 385 345 389 344 393"/><path d="M323 380 C327 381 330 383 332 386"/>
</g>
<!-- vessels -->
<g fill="none" stroke="#d4545e" stroke-width="0.7">
<path d="M305 401.4 C306 396 309 392 313 389.6 C317 387.4 322 386.6 326 384 C329 382 330 380 331 378"/>
<path d="M313 389.6 C311 385 310.6 380 311.6 376 C312.6 372 314 368 315 364"/>
<path d="M318 387.6 C320 384 320.6 380 319.6 376"/>
<path d="M311.6 380 C308 379 304 380 301 382.6"/>
<path d="M326 384 C330 386 334 390 335 396"/>
<path d="M322 404 C321 400 321.6 396 323.6 393"/>
</g>
<circle cx="333.4" cy="379.2" r="13" fill="url(#hot)"/>
</g>
<!-- ===== bone ===== -->
<g id="bone">
<defs><linearGradient id="boneG" x1="0" y1="0" x2="1" y2="0"><stop offset="0" stop-color="#e4d2a2"/><stop offset="0.5" stop-color="#efe1b9"/><stop offset="1" stop-color="#e2ce9b"/></linearGradient>
<linearGradient id="fracG" x1="372" y1="349" x2="381" y2="366" gradientUnits="userSpaceOnUse"><stop offset="0" stop-color="#e9a09a" stop-opacity="0.2"/><stop offset="0.45" stop-color="#d8585a" stop-opacity="0.9"/><stop offset="1" stop-color="#e9a09a" stop-opacity="0"/></linearGradient></defs>
<!-- distal cartilage -->
<path d="M396.4 414.4 C398 413 402.4 413.4 404.6 415.2 C405.6 418 403.2 420.4 400 420.4 C397.2 420.4 395.6 417.6 396.4 414.4 Z" fill="#d9d9d9"/>
<!-- main bone -->
<path d="M365.6 333.4 C365.6 331 367.6 329.4 369.8 329.6 C371.8 329.8 373.4 329.2 374.8 327.6 L381.8 328 C381.6 331 380 333.6 378.4 336 C377.6 338.6 378 341.6 378.6 344.6 C379.8 350 381.2 355 382.6 360 C384.4 366 386.2 371.6 388.2 377 C390.8 384 393.8 391 397.4 397 C399.6 400.8 402.4 404 405.4 406.6 C407.6 408.4 409.4 410 409 411.8 C408.6 413.8 406.2 414.6 404.6 415.2 C402.2 413.4 398.8 413.4 396.4 414.4 C394.8 415.2 393 415 392.8 413.6 C392.6 411.6 394.2 409.6 394 407.2 C393.4 403.4 391.6 399.6 389.8 396 C386.4 389.4 383.2 382.6 380.4 376 C377.6 369.4 375.2 362.6 373 356 C371.6 351.6 370.6 347 369.4 343 C368.4 339.6 365.6 337 365.6 333.4 Z" fill="url(#boneG)" stroke="#d6c28e" stroke-width="0.4"/>
<!-- femoral head -->
<circle cx="378.9" cy="325.7" r="3.7" fill="#dfdfdf" stroke="#cccccc" stroke-width="0.4"/>
<!-- fracture -->
<path d="M371.4 350 L378.8 347.4 C380.2 353 382 359 384 365 L377.6 367 C375.4 361.6 373.2 356 371.4 350 Z" fill="url(#fracG)"/>
<path d="M373.2 357.4 L375 354.4 L376 357 L378.4 352.6 L378.8 356 L380.6 354.6" fill="none" stroke="#fff" stroke-width="0.9" stroke-linejoin="round"/>
<path d="M373.4 358.6 L374.8 360.4" fill="none" stroke="#c83c40" stroke-width="1"/>
</g>

</g>
</svg>
</body></html>
